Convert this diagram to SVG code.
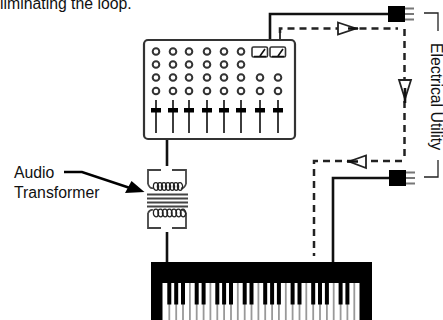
<svg xmlns="http://www.w3.org/2000/svg" width="443" height="320" viewBox="0 0 443 320">
<style>
text{font-family:"Liberation Sans",Arial,sans-serif;font-size:15.800px;fill:#111}
.s{fill:none;stroke:#111;stroke-width:2.600}
.t{fill:none;stroke:#222;stroke-width:1.800}
.d{fill:none;stroke:#222;stroke-width:2.500;stroke-dasharray:7 5}
.k{fill:none;stroke:#222;stroke-width:1.300}
.f{fill:#000}
.tri{fill:#fff;stroke:#222;stroke-width:1.800}
.g{fill:none;stroke:#444;stroke-width:1.800}
.c{fill:none;stroke:#444;stroke-width:1.900}
.w{stroke:#999;stroke-width:1.800}
</style>
<defs>
<circle id="knob" r="3.300" fill="#fff" stroke="#333" stroke-width="2"/>
<g id="fader"><path d="M0 100V133" stroke="#333" stroke-width="1.900"/><rect x="-5" y="108" width="10" height="4.500" fill="#000"/></g>
<g id="meter"><rect x="0" y="47" width="15.500" height="10" rx="1.500" fill="#fff" stroke="#333" stroke-width="1.600"/><path d="M2 56.500H14M8 56L13 49" stroke="#111" stroke-width="1.600" fill="none"/></g>
<g id="plug"><path d="M17 2.500H26M17 8H26M17 13.500H26" stroke="#777" stroke-width="1.800"/><rect width="17" height="16" fill="#000"/></g>
<ellipse id="loop" rx="2.600" ry="3.800" fill="none" stroke="#222" stroke-width="1.300"/>
</defs>
<text x="0" y="9">liminating the loop.</text>
<g id="connectors">
<path class="s" d="M270 40V14H390"/>
<path class="t" d="M280 40V33"/>
<path class="d" d="M280 33V28.500H398"/>
<path class="d" d="M404.500 29V161"/>
<path class="d" d="M402 161H314V256"/>
<path class="s" d="M333 262V178H390"/>
<path class="s" d="M167 138V166"/>
<path class="s" d="M167 232V262"/>
<path class="tri" d="M338 22.500L356 28.500L338 34.500Z"/>
<path class="tri" d="M399 80H411L405 99Z"/>
<path class="tri" d="M366 155.500V168L349 161.500Z"/>
<path class="s" d="M348 28.500H358M405 88V103M358 161.500H347"/>
</g>
<g id="mixer">
<rect x="144" y="40" width="151" height="99" rx="4" fill="#fff" stroke="#333" stroke-width="2.200"/>
<use href="#knob" x="156" y="51.500"/><use href="#knob" x="173" y="51.500"/><use href="#knob" x="189" y="51.500"/><use href="#knob" x="207" y="51.500"/><use href="#knob" x="224" y="51.500"/><use href="#knob" x="241" y="51.500"/>
<use href="#knob" x="156" y="64.500"/><use href="#knob" x="173" y="64.500"/><use href="#knob" x="189" y="64.500"/><use href="#knob" x="207" y="64.500"/><use href="#knob" x="224" y="64.500"/><use href="#knob" x="241" y="64.500"/>
<use href="#knob" x="156" y="77.500"/><use href="#knob" x="173" y="77.500"/><use href="#knob" x="189" y="77.500"/><use href="#knob" x="207" y="77.500"/><use href="#knob" x="224" y="77.500"/><use href="#knob" x="241" y="77.500"/><use href="#knob" x="260" y="77.500"/><use href="#knob" x="278" y="77.500"/>
<use href="#knob" x="156" y="91"/><use href="#knob" x="173" y="91"/><use href="#knob" x="189" y="91"/><use href="#knob" x="207" y="91"/><use href="#knob" x="224" y="91"/><use href="#knob" x="241" y="91"/><use href="#knob" x="260" y="91"/><use href="#knob" x="278" y="91"/>
<use href="#meter" x="252"/><use href="#meter" x="270"/>
<use href="#fader" x="156"/><use href="#fader" x="173"/><use href="#fader" x="189"/><use href="#fader" x="207"/><use href="#fader" x="224"/><use href="#fader" x="241"/><use href="#fader" x="260"/><use href="#fader" x="278"/>
</g>
<g id="plug-top"><use href="#plug" x="388" y="6"/></g>
<g id="plug-bottom"><use href="#plug" x="389" y="170"/></g>
<g id="utility-label">
<path class="k" d="M424 13H438V31"/>
<path class="k" d="M438 160V177H424"/>
<text transform="translate(431 43) rotate(90)">Electrical Utility</text>
</g>
<g id="transformer">
<path class="g" d="M161 170H148V184M172 170H186V184"/>
<path class="g" d="M148 213V228H161M186 213V228H172"/>
<path class="g" d="M148 184Q150 189 153 188M186 184Q184 189 181 188M148 213Q150 209 153 210M186 213Q184 209 181 210"/>
<use href="#loop" x="156" y="186.500"/><use href="#loop" x="160" y="186.500"/><use href="#loop" x="164" y="186.500"/><use href="#loop" x="168" y="186.500"/><use href="#loop" x="172" y="186.500"/><use href="#loop" x="176" y="186.500"/><use href="#loop" x="180" y="186.500"/>
<use href="#loop" x="156" y="213"/><use href="#loop" x="160.500" y="213"/><use href="#loop" x="165" y="213"/><use href="#loop" x="169.500" y="213"/><use href="#loop" x="174" y="213"/><use href="#loop" x="178.500" y="213"/><use href="#loop" x="183" y="213"/>
<path class="c" d="M147 194.500H188M147 198.500H188M147 202.500H188M147 206.500H188"/>
</g>
<g id="transformer-label">
<text x="14" y="178">Audio</text>
<text x="14" y="197.500">Transformer</text>
<path d="M64 172H82L130 188" fill="none" stroke="#000" stroke-width="2.500"/>
<path class="f" d="M144.500 192L131.500 181L125 193Z"/>
</g>
<g id="keyboard">
<rect x="151" y="262" width="221" height="58" fill="#000"/>
<rect x="162.500" y="283" width="197" height="37" fill="#fff"/>
<path class="w" d="M169.300 283V320M176.200 283V320M183 283V320M189.900 283V320M196.700 283V320M203.600 283V320M210.400 283V320M217.300 283V320M224.100 283V320M231 283V320M237.800 283V320M244.700 283V320M251.500 283V320M258.400 283V320M265.200 283V320M272.100 283V320M278.900 283V320M285.800 283V320M292.600 283V320M299.500 283V320M306.300 283V320M313.200 283V320M320 283V320M326.900 283V320M333.700 283V320M340.600 283V320M347.400 283V320M354.300 283V320"/>
<path d="M169.300 283V304.500M176.200 283V304.500M183 283V304.500M196.700 283V304.500M203.600 283V304.500M217.300 283V304.500M224.100 283V304.500M231 283V304.500M244.700 283V304.500M251.500 283V304.500M265.200 283V304.500M272.100 283V304.500M278.900 283V304.500M292.600 283V304.500M299.500 283V304.500M313.200 283V304.500M320 283V304.500M326.900 283V304.500M340.600 283V304.500M347.400 283V304.500" stroke="#000" stroke-width="4"/>
</g>
</svg>
